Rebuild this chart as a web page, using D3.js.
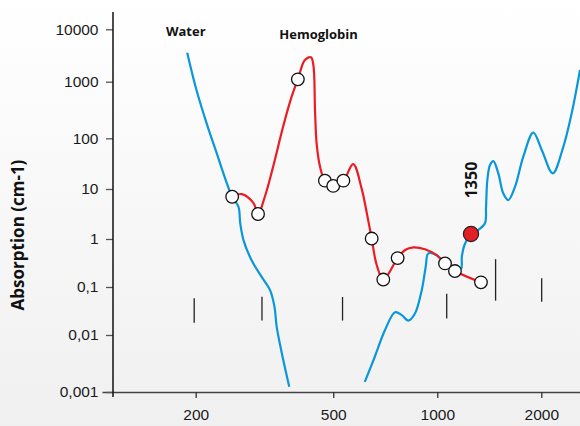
<!DOCTYPE html>
<html>
<head>
<meta charset="utf-8">
<script src="https://cdn.jsdelivr.net/npm/d3@7"></script>
<style>
  body { margin: 0; background: #fff; }
  svg { display: block; }
  .tick text { font-family: "Liberation Sans", Arial, sans-serif; font-size: 15.5px; fill: #1a1a1a; }
  .lbl { font-family: "Open Sans", sans-serif; font-weight: 700; fill: #111; }
</style>
</head>
<body>
<div id="chart"></div>
<script>
// wavelength (nm) / absorption (cm-1)
var waterLeftNm  = [189, 201, 215, 230, 246, 255, 266, 269, 275, 290, 310, 328, 338, 343, 355, 373];
var waterLeftAbs = [3575, 714, 186, 51, 13.1, 7.0, 4.4, 2.1, 0.95, 0.365, 0.164, 0.087, 0.039, 0.015, 0.0048, 0.00124];

var waterRightNm  = [617, 660, 706, 755, 789, 825, 862, 902, 926, 942, 996, 1053, 1125, 1171, 1178, 1199, 1252, 1314, 1374, 1384, 1396, 1421, 1453, 1502, 1552, 1605, 1679, 1774, 1896, 2006, 2158, 2316, 2449, 2588];
var waterRightAbs = [0.0015, 0.0042, 0.0127, 0.0297, 0.026, 0.020, 0.028, 0.087, 0.265, 0.50, 0.46, 0.31, 0.215, 0.234, 0.43, 0.75, 1.26, 1.51, 2.06, 4.4, 15, 29.7, 35.6, 20.4, 8.2, 6.0, 11.1, 43.4, 126, 59, 20.4, 68, 277, 1670];

var hbNm  = [255, 272, 294, 303, 317, 335, 358, 379, 395, 414, 431, 438, 443, 448, 458, 473, 500, 535, 571, 604, 627, 646, 668, 698, 768, 807, 853, 921, 996, 1053, 1125, 1338];
var hbAbs = [7.0, 7.9, 5.2, 3.16, 7.0, 27.5, 160, 543, 1110, 2590, 2920, 2080, 295, 74, 27.5, 14.6, 11.5, 14.6, 31, 10.3, 3.0, 1.02, 0.287, 0.143, 0.40, 0.59, 0.67, 0.61, 0.46, 0.31, 0.215, 0.125];

// open circles on the hemoglobin curve
var hbSampleNm  = [255, 303, 395, 473, 500, 535, 646, 698, 768, 1053, 1125, 1338];
var hbSampleAbs = [7.0, 3.16, 1110, 14.6, 11.5, 14.6, 1.02, 0.143, 0.40, 0.31, 0.215, 0.125];

// short vertical marks (laser lines)
var markNm   = [198, 311, 532, 1065, 1475, 2005];
var markHigh = [0.058, 0.063, 0.062, 0.072, 0.38, 0.152];
var markLow  = [0.018, 0.020, 0.020, 0.022, 0.052, 0.049];

var spotNm = 1252, spotAbs = 1.26, spotLabel = "1350";

var xTicks = [200, 500, 1000, 2000];
var yTicks = [0.001, 0.01, 0.1, 1, 10, 100, 1000, 10000];
var yTickLabels = ["0,001", "0,01", "0,1", "1", "10", "100", "1000", "10000"];

var width = 580, height = 426;

var svg = d3.select("#chart").append("svg")
    .attr("width", width)
    .attr("height", height);

// background gradient
var grad = svg.append("defs").append("linearGradient")
    .attr("id", "bg").attr("x1", 0).attr("y1", 0).attr("x2", 0).attr("y2", 1);
grad.append("stop").attr("offset", "0%").attr("stop-color", "#ffffff");
grad.append("stop").attr("offset", "100%").attr("stop-color", "#f0f0f0");
svg.append("rect").attr("width", width).attr("height", height).attr("fill", "url(#bg)");

svg.select("defs").append("clipPath").attr("id", "plot")
    .append("rect").attr("x", 113).attr("y", 0).attr("width", width - 113).attr("height", 392);

// scales (the y axis of the original is not evenly spaced per decade)
var x = d3.scaleLog().domain([200, 2000]).range([195.7, 541.3]);
var y = d3.scaleLog().domain(yTicks).range([392, 335, 287, 239, 189, 138.3, 81.7, 29.3]);

// x axis
var xAxisScale = x.copy().domain([x.invert(102), x.invert(580)]).range([102, 580]);
var gx = svg.append("g")
    .attr("transform", "translate(0,392)")
    .call(d3.axisBottom(xAxisScale)
        .tickValues(xTicks)
        .tickFormat(d3.format("d"))
        .tickSize(6)
        .tickSizeOuter(0)
        .tickPadding(11));
gx.select(".domain").attr("stroke", "#444").attr("stroke-width", 1.6);
gx.selectAll(".tick line").attr("stroke", "#333").attr("stroke-width", 1.3);

// y axis
var gy = svg.append("g")
    .attr("transform", "translate(113,0)")
    .call(d3.axisLeft(y)
        .tickValues(yTicks)
        .tickFormat(function(d, i) { return yTickLabels[i]; })
        .tickSize(7)
        .tickSizeOuter(0)
        .tickPadding(7.5));
gy.select(".domain").remove();
gy.selectAll(".tick line").attr("stroke", "#555").attr("stroke-width", 1.3);
gy.append("line").attr("y1", 12).attr("y2", 397).attr("stroke", "#111").attr("stroke-width", 1.5);

svg.append("text")
    .attr("class", "lbl")
    .attr("transform", "translate(24,235) rotate(-90)")
    .attr("text-anchor", "middle")
    .style("font-size", "17px")
    .text("Absorption (cm-1)");

var plot = svg.append("g").attr("clip-path", "url(#plot)");

// laser line marks
plot.selectAll("line.mark")
    .data(markNm)
    .enter()
    .append("line")
    .attr("class", "mark")
    .attr("x1", function(d) { return x(d); })
    .attr("x2", function(d) { return x(d); })
    .attr("y1", function(d, i) { return y(markHigh[i]); })
    .attr("y2", function(d, i) { return y(markLow[i]); })
    .attr("stroke", "#222")
    .attr("stroke-width", 1.3);

var line = d3.line()
    .x(function(d) { return x(d[0]); })
    .y(function(d) { return y(d[1]); })
    .curve(d3.curveCatmullRom.alpha(0.5));

function pairs(a, b) { return a.map(function(v, i) { return [v, b[i]]; }); }

plot.append("path")
    .datum(pairs(waterLeftNm, waterLeftAbs))
    .attr("d", line)
    .attr("fill", "none")
    .attr("stroke", "#0a96da")
    .attr("stroke-width", 2.2);

plot.append("path")
    .datum(pairs(waterRightNm, waterRightAbs))
    .attr("d", line)
    .attr("fill", "none")
    .attr("stroke", "#0a96da")
    .attr("stroke-width", 2.2);

plot.append("path")
    .datum(pairs(hbNm, hbAbs))
    .attr("d", line)
    .attr("fill", "none")
    .attr("stroke", "#ec1c24")
    .attr("stroke-width", 2.2);

plot.selectAll("circle.sample")
    .data(pairs(hbSampleNm, hbSampleAbs))
    .enter()
    .append("circle")
    .attr("class", "sample")
    .attr("cx", function(d) { return x(d[0]); })
    .attr("cy", function(d) { return y(d[1]); })
    .attr("r", 6.3)
    .attr("fill", "#fff")
    .attr("stroke", "#111")
    .attr("stroke-width", 1.3);

plot.append("circle")
    .attr("cx", x(spotNm))
    .attr("cy", y(spotAbs))
    .attr("r", 7.6)
    .attr("fill", "#e31e24")
    .attr("stroke", "#222")
    .attr("stroke-width", 1.2);

svg.append("text")
    .attr("class", "lbl")
    .attr("transform", "translate(" + (x(spotNm) + 6) + ",180) rotate(-90)")
    .attr("text-anchor", "middle")
    .style("font-size", "16px")
    .text(spotLabel);

// series names
svg.append("text")
    .attr("class", "lbl")
    .attr("x", x(164)).attr("y", y(7450))
    .style("font-size", "13px")
    .text("Water");

svg.append("text")
    .attr("class", "lbl")
    .attr("x", x(349)).attr("y", y(6440))
    .style("font-size", "13px")
    .text("Hemoglobin");
</script>
</body>
</html>
